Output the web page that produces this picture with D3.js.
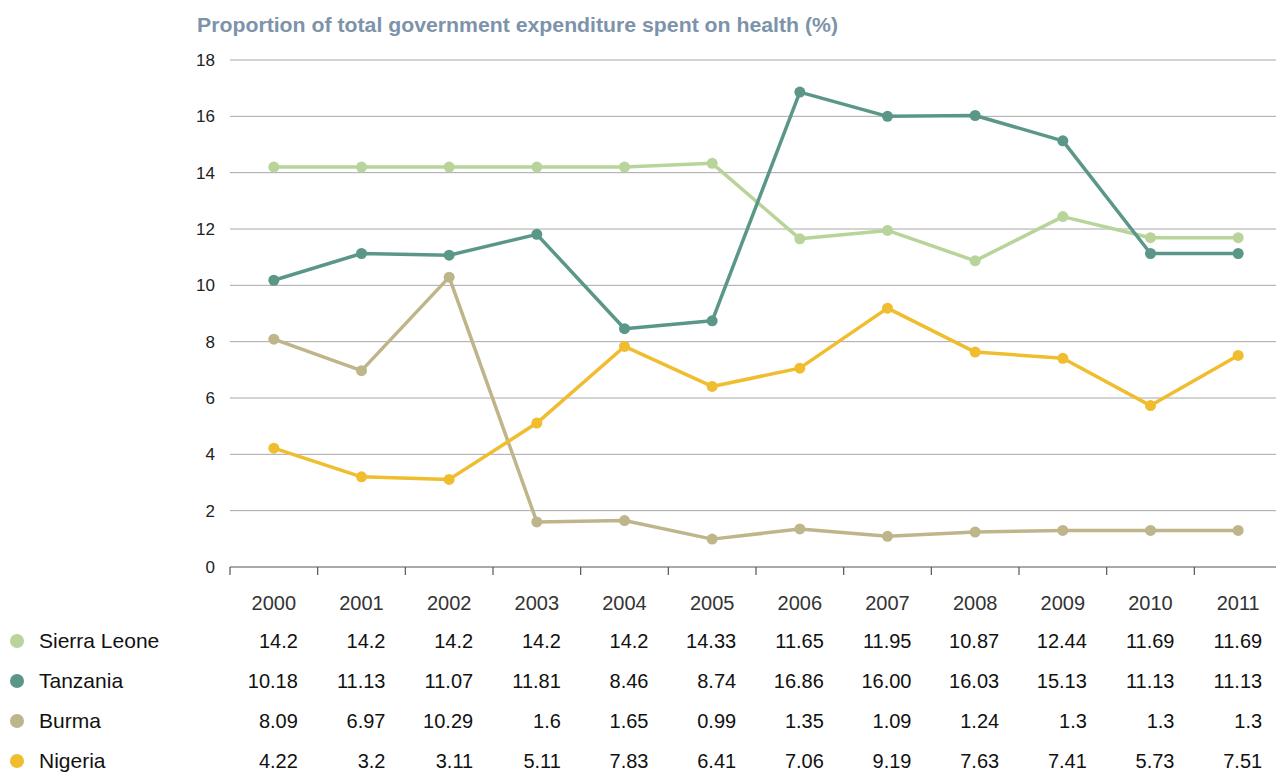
<!DOCTYPE html>
<html>
<head>
<meta charset="utf-8">
<script src="https://cdn.jsdelivr.net/npm/d3@7"></script>
<style>
  html, body { margin: 0; padding: 0; background: #fff; }
  svg { display: block; font-family: "Liberation Sans", Arial, Helvetica, sans-serif; }
</style>
</head>
<body>
<svg id="chart" width="1276" height="773"></svg>
<script>
// Health expenditure as a share of total government expenditure (%)
const years = ["2000", "2001", "2002", "2003", "2004", "2005", "2006", "2007", "2008", "2009", "2010", "2011"];
const countries = ["Sierra Leone", "Tanzania", "Burma", "Nigeria"];
const sierraLeone = ["14.2", "14.2", "14.2", "14.2", "14.2", "14.33", "11.65", "11.95", "10.87", "12.44", "11.69", "11.69"];
const tanzania = ["10.18", "11.13", "11.07", "11.81", "8.46", "8.74", "16.86", "16.00", "16.03", "15.13", "11.13", "11.13"];
const burma = ["8.09", "6.97", "10.29", "1.6", "1.65", "0.99", "1.35", "1.09", "1.24", "1.3", "1.3", "1.3"];
const nigeria = ["4.22", "3.2", "3.11", "5.11", "7.83", "6.41", "7.06", "9.19", "7.63", "7.41", "5.73", "7.51"];
const yTicks = [0, 2, 4, 6, 8, 10, 12, 14, 16, 18];
const colors = ["#b8d49a", "#5b9789", "#bfb58b", "#efbd2e"];
const titleText = "Proportion of total government expenditure spent on health (%)";

const seriesLabels = [sierraLeone, tanzania, burma, nigeria];
const series = countries.map((name, i) => ({
  name,
  color: colors[i],
  labels: seriesLabels[i],
  values: seriesLabels[i].map(Number)
}));

const svg = d3.select("#chart");
const W = 1276;
const plotLeft = 230, plotTop = 60, plotBottom = 567;

const x = d3.scaleBand().domain(years).range([plotLeft, 1282]).padding(0);
const y = d3.scaleLinear().domain([0, 18]).range([plotBottom, plotTop]);
const cx = d => x(d) + x.bandwidth() / 2;

// Title
svg.append("text")
  .attr("x", 197).attr("y", 32)
  .attr("fill", "#7d93aa")
  .attr("font-size", 21).attr("font-weight", "bold")
  .attr("textLength", 641).attr("lengthAdjust", "spacingAndGlyphs")
  .text(titleText);

// Horizontal gridlines
svg.append("g").selectAll("line")
  .data(yTicks.filter(t => t > 0))
  .join("line")
  .attr("x1", plotLeft).attr("x2", W)
  .attr("y1", d => y(d)).attr("y2", d => y(d))
  .attr("stroke", "#a8a8a8").attr("stroke-width", 1);

// Y tick labels
svg.append("g").selectAll("text")
  .data(yTicks)
  .join("text")
  .attr("x", 215).attr("y", d => y(d))
  .attr("dy", "0.35em")
  .attr("text-anchor", "end")
  .attr("font-size", 17).attr("fill", "#222")
  .text(d => d);

// Baseline axis with ticks at band boundaries
const axisG = svg.append("g");
axisG.append("line")
  .attr("x1", plotLeft).attr("x2", W)
  .attr("y1", plotBottom).attr("y2", plotBottom)
  .attr("stroke", "#555").attr("stroke-width", 1.2);
axisG.selectAll("line.tick")
  .data(years)
  .join("line")
  .attr("class", "tick")
  .attr("x1", d => x(d)).attr("x2", d => x(d))
  .attr("y1", plotBottom).attr("y2", plotBottom + 8)
  .attr("stroke", "#555").attr("stroke-width", 1.2);

// Year labels
svg.append("g").selectAll("text")
  .data(years)
  .join("text")
  .attr("x", d => cx(d)).attr("y", 610)
  .attr("text-anchor", "middle")
  .attr("font-size", 20).attr("fill", "#333")
  .text(d => d);

// Lines and points
const line = d3.line()
  .x((d, i) => cx(years[i]))
  .y(d => y(d));

const sg = svg.append("g").selectAll("g")
  .data(series)
  .join("g");
sg.append("path")
  .attr("d", d => line(d.values))
  .attr("fill", "none")
  .attr("stroke", d => d.color)
  .attr("stroke-width", 3.5)
  .attr("stroke-linejoin", "round");
sg.selectAll("circle")
  .data(d => d.values.map((v, i) => ({ v, year: years[i], color: d.color })))
  .join("circle")
  .attr("cx", d => cx(d.year))
  .attr("cy", d => y(d.v))
  .attr("r", 5.5)
  .attr("fill", d => d.color);

// Data table with legend
const rowY = [641, 681, 721, 761];
const rows = svg.append("g").selectAll("g")
  .data(series)
  .join("g")
  .attr("transform", (d, i) => `translate(0,${rowY[i]})`);
rows.append("circle")
  .attr("cx", 17).attr("cy", 0).attr("r", 7)
  .attr("fill", d => d.color);
rows.append("text")
  .attr("x", 39).attr("y", 0).attr("dy", "0.35em")
  .attr("font-size", 21).attr("fill", "#111")
  .text(d => d.name);
rows.selectAll("text.val")
  .data(d => d.labels.map((l, i) => ({ l, year: years[i] })))
  .join("text")
  .attr("class", "val")
  .attr("x", d => cx(d.year) + 24)
  .attr("y", 0).attr("dy", "0.35em")
  .attr("text-anchor", "end")
  .attr("font-size", 20).attr("fill", "#111")
  .text(d => d.l);
</script>
</body>
</html>
